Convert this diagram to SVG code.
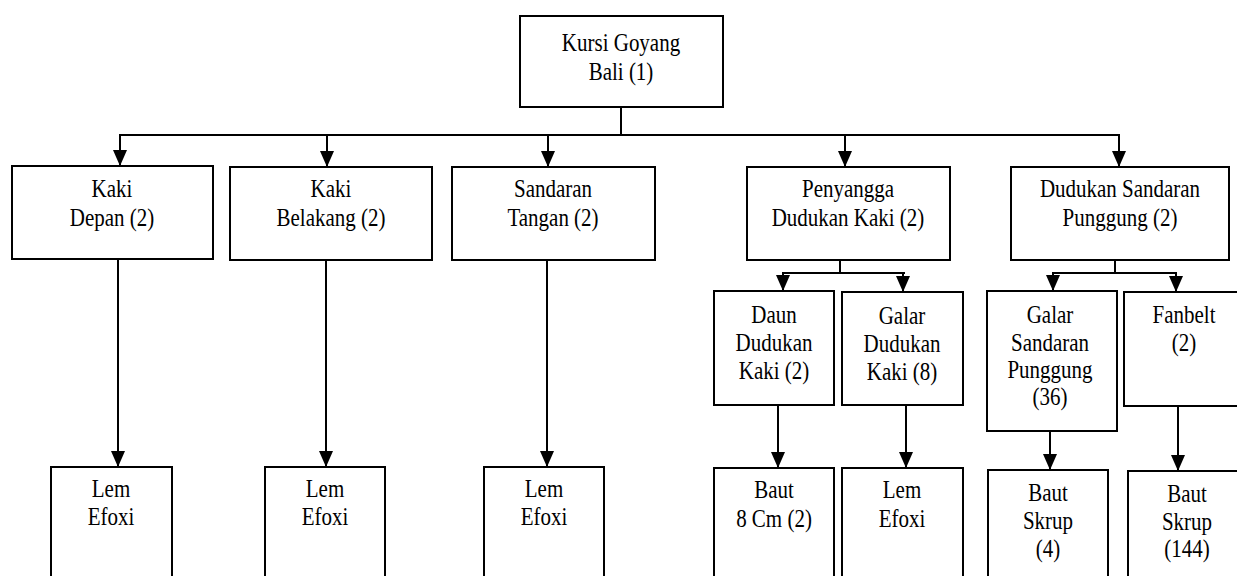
<svg xmlns="http://www.w3.org/2000/svg" width="1237" height="576" viewBox="0 0 1237 576">
<style>
  .box { fill: #ffffff; stroke: #000000; stroke-width: 2; }
  .lbl { font-family: 'Liberation Serif', Tinos, 'Times New Roman', 'DejaVu Serif', 'Noto Serif', serif; font-size: 21px; fill: #000000; text-anchor: middle; }
  .wire { fill: none; stroke: #000000; stroke-width: 2; }
  .arr { fill: none; stroke: #000000; stroke-width: 2; marker-end: url(#ah); }
</style>
<defs>
  <marker id="ah" viewBox="0 0 16 14" refX="16" refY="7" markerWidth="16" markerHeight="14" markerUnits="userSpaceOnUse" orient="auto">
    <path d="M0,0 L16,7 L0,14 z" fill="#000000"/>
  </marker>
</defs>
<rect width="1237" height="576" fill="#ffffff"/>

<g id="connectors">
  <path class="wire" d="M621,107 V135"/>
  <path class="wire" d="M119,135 H1120"/>
  <path class="arr" d="M120,135 V166"/>
  <path class="arr" d="M327,135 V167"/>
  <path class="arr" d="M548,135 V167"/>
  <path class="arr" d="M845,135 V167"/>
  <path class="arr" d="M1119,135 V167"/>
  <path class="arr" d="M118,259 V467"/>
  <path class="arr" d="M326,260 V467"/>
  <path class="arr" d="M547,260 V467"/>
  <path class="wire" d="M840,260 V273"/>
  <path class="wire" d="M782,273 H905"/>
  <path class="arr" d="M783,273 V291"/>
  <path class="arr" d="M903,273 V292"/>
  <path class="arr" d="M778,405 V468"/>
  <path class="arr" d="M906,405 V468"/>
  <path class="wire" d="M1115,260 V273"/>
  <path class="wire" d="M1052,273 H1177"/>
  <path class="arr" d="M1053,273 V291"/>
  <path class="arr" d="M1176,273 V292"/>
  <path class="arr" d="M1050,431 V470"/>
  <path class="arr" d="M1178,406 V471"/>
</g>

<g id="n-root">
  <rect class="box" x="520" y="16" width="203" height="91"/>
  <text class="lbl" transform="translate(621,51) scale(1,1.15)">Kursi Goyang</text>
  <text class="lbl" transform="translate(621,80) scale(1,1.15)">Bali (1)</text>
</g>

<g id="n-kaki-depan">
  <rect class="box" x="12" y="166" width="201" height="93"/>
  <text class="lbl" transform="translate(112,197) scale(1,1.15)">Kaki</text>
  <text class="lbl" transform="translate(112,226) scale(1,1.15)">Depan (2)</text>
</g>
<g id="n-kaki-belakang">
  <rect class="box" x="230" y="167" width="202" height="93"/>
  <text class="lbl" transform="translate(331,197) scale(1,1.15)">Kaki</text>
  <text class="lbl" transform="translate(331,226) scale(1,1.15)">Belakang (2)</text>
</g>
<g id="n-sandaran-tangan">
  <rect class="box" x="452" y="167" width="203" height="93"/>
  <text class="lbl" transform="translate(553,197) scale(1,1.15)">Sandaran</text>
  <text class="lbl" transform="translate(553,226) scale(1,1.15)">Tangan (2)</text>
</g>
<g id="n-penyangga">
  <rect class="box" x="747" y="167" width="203" height="93"/>
  <text class="lbl" transform="translate(848,197) scale(1,1.15)">Penyangga</text>
  <text class="lbl" transform="translate(848,226) scale(1,1.15)">Dudukan Kaki (2)</text>
</g>
<g id="n-dudukan-sandaran">
  <rect class="box" x="1011" y="167" width="218" height="93"/>
  <text class="lbl" transform="translate(1120,197) scale(1,1.15)">Dudukan Sandaran</text>
  <text class="lbl" transform="translate(1120,226) scale(1,1.15)">Punggung (2)</text>
</g>

<g id="n-daun-dudukan">
  <rect class="box" x="714" y="291" width="120" height="114"/>
  <text class="lbl" transform="translate(774,323) scale(1,1.15)">Daun</text>
  <text class="lbl" transform="translate(774,351) scale(1,1.15)">Dudukan</text>
  <text class="lbl" transform="translate(774,379) scale(1,1.15)">Kaki (2)</text>
</g>
<g id="n-galar-dudukan">
  <rect class="box" x="842" y="292" width="121" height="113"/>
  <text class="lbl" transform="translate(902,324) scale(1,1.15)">Galar</text>
  <text class="lbl" transform="translate(902,352) scale(1,1.15)">Dudukan</text>
  <text class="lbl" transform="translate(902,380) scale(1,1.15)">Kaki (8)</text>
</g>
<g id="n-galar-sandaran">
  <rect class="box" x="987" y="291" width="130" height="140"/>
  <text class="lbl" transform="translate(1050,323) scale(1,1.15)">Galar</text>
  <text class="lbl" transform="translate(1050,351) scale(1,1.15)">Sandaran</text>
  <text class="lbl" transform="translate(1050,378) scale(1,1.15)">Punggung</text>
  <text class="lbl" transform="translate(1050,405) scale(1,1.15)">(36)</text>
</g>
<g id="n-fanbelt">
  <rect class="box" x="1124" y="292" width="118" height="114"/>
  <text class="lbl" transform="translate(1184,323) scale(1,1.15)">Fanbelt</text>
  <text class="lbl" transform="translate(1184,351) scale(1,1.15)">(2)</text>
</g>

<g id="n-lem-1">
  <rect class="box" x="51" y="467" width="121" height="120"/>
  <text class="lbl" transform="translate(111,497) scale(1,1.15)">Lem</text>
  <text class="lbl" transform="translate(111,525) scale(1,1.15)">Efoxi</text>
</g>
<g id="n-lem-2">
  <rect class="box" x="265" y="467" width="120" height="120"/>
  <text class="lbl" transform="translate(325,497) scale(1,1.15)">Lem</text>
  <text class="lbl" transform="translate(325,525) scale(1,1.15)">Efoxi</text>
</g>
<g id="n-lem-3">
  <rect class="box" x="484" y="467" width="120" height="120"/>
  <text class="lbl" transform="translate(544,497) scale(1,1.15)">Lem</text>
  <text class="lbl" transform="translate(544,525) scale(1,1.15)">Efoxi</text>
</g>
<g id="n-baut-8cm">
  <rect class="box" x="714" y="468" width="120" height="120"/>
  <text class="lbl" transform="translate(774,498) scale(1,1.15)">Baut</text>
  <text class="lbl" transform="translate(774,527) scale(1,1.15)">8 Cm (2)</text>
</g>
<g id="n-lem-4">
  <rect class="box" x="842" y="468" width="121" height="120"/>
  <text class="lbl" transform="translate(902,498) scale(1,1.15)">Lem</text>
  <text class="lbl" transform="translate(902,527) scale(1,1.15)">Efoxi</text>
</g>
<g id="n-baut-skrup-4">
  <rect class="box" x="988" y="470" width="120" height="120"/>
  <text class="lbl" transform="translate(1048,501) scale(1,1.15)">Baut</text>
  <text class="lbl" transform="translate(1048,529) scale(1,1.15)">Skrup</text>
  <text class="lbl" transform="translate(1048,557) scale(1,1.15)">(4)</text>
</g>
<g id="n-baut-skrup-144">
  <rect class="box" x="1128" y="471" width="114" height="120"/>
  <text class="lbl" transform="translate(1187,502) scale(1,1.15)">Baut</text>
  <text class="lbl" transform="translate(1187,530) scale(1,1.15)">Skrup</text>
  <text class="lbl" transform="translate(1187,557) scale(1,1.15)">(144)</text>
</g>
</svg>
